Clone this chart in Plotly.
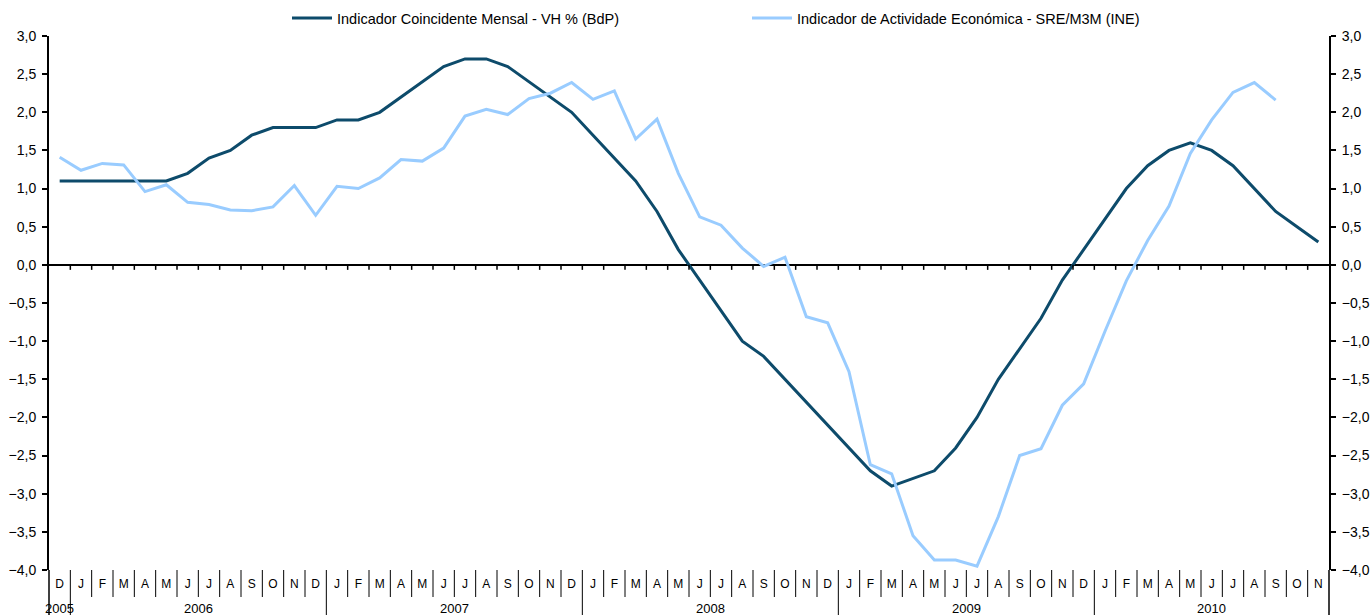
import plotly.graph_objects as go

# ---------------- data ----------------
months = (["D"]
          + ["J", "F", "M", "A", "M", "J", "J", "A", "S", "O", "N", "D"] * 4
          + ["J", "F", "M", "A", "M", "J", "J", "A", "S", "O", "N"])
years = ["2005", "2006", "2007", "2008", "2009", "2010"]
year_centers = [0, 6.5, 18.5, 30.5, 42.5, 54]
year_breaks = [0.5, 12.5, 24.5, 36.5, 48.5]

bdp = [1.1, 1.1, 1.1, 1.1, 1.1, 1.1, 1.2, 1.4, 1.5, 1.7, 1.8, 1.8, 1.8, 1.9, 1.9,
       2.0, 2.2, 2.4, 2.6, 2.7, 2.7, 2.6, 2.4, 2.2, 2.0, 1.7, 1.4, 1.1, 0.7, 0.2,
       -0.2, -0.6, -1.0, -1.2, -1.5, -1.8, -2.1, -2.4, -2.7, -2.9, -2.8, -2.7, -2.4,
       -2.0, -1.5, -1.1, -0.7, -0.2, 0.2, 0.6, 1.0, 1.3, 1.5, 1.6, 1.5, 1.3, 1.0,
       0.7, 0.5, 0.3]
ine = [1.41, 1.24, 1.33, 1.31, 0.96, 1.05, 0.82, 0.79, 0.72, 0.71, 0.76, 1.04, 0.65,
       1.03, 1.0, 1.14, 1.38, 1.36, 1.53, 1.95, 2.04, 1.97, 2.18, 2.25, 2.39, 2.17,
       2.28, 1.65, 1.91, 1.20, 0.63, 0.52, 0.22, -0.02, 0.10, -0.68, -0.76, -1.40,
       -2.62, -2.74, -3.55, -3.87, -3.87, -3.95, -3.30, -2.50, -2.41, -1.84, -1.56,
       -0.87, -0.21, 0.32, 0.77, 1.46, 1.90, 2.26, 2.39, 2.16]
y_ticks = [3.0, 2.5, 2.0, 1.5, 1.0, 0.5, 0.0, -0.5, -1.0, -1.5, -2.0, -2.5, -3.0, -3.5, -4.0]
series_names = ["Indicador Coincidente Mensal - VH % (BdP)",
                "Indicador de Actividade Económica - SRE/M3M (INE)"]

DARK = "#0d4b6b"
LIGHT = "#99ccff"
FONT = "Liberation Sans, Arial, sans-serif"

x_idx = list(range(len(months)))

fig = go.Figure()
fig.add_trace(go.Scatter(x=x_idx, y=bdp, mode="lines", name=series_names[0],
                         line=dict(color=DARK, width=3)))
fig.add_trace(go.Scatter(x=x_idx[:len(ine)], y=ine, mode="lines", name=series_names[1],
                         line=dict(color=LIGHT, width=3)))
# invisible trace to activate the right axis
fig.add_trace(go.Scatter(x=[x_idx[0]], y=[y_ticks[0]], yaxis="y2", mode="lines",
                         line=dict(width=0), showlegend=False, hoverinfo="skip"))

shapes = []
# small ticks below the zero line at month boundaries
for i in range(len(months) - 1):
    shapes.append(dict(type="line", xref="x", yref="y", ysizemode="pixel", yanchor=0,
                       x0=i + 0.5, x1=i + 0.5, y0=0, y1=-5,
                       line=dict(color="black", width=1.5)))
# month separators in the category band
for i in range(len(months) - 1):
    b = i + 0.5
    long_ = b in year_breaks
    shapes.append(dict(type="line", xref="x", yref="paper", ysizemode="pixel", yanchor=0,
                       x0=b, x1=b, y0=0, y1=-45 if long_ else -27,
                       line=dict(color="black", width=1)))
# extensions of the side axes down to the bottom
for xp in (0, 1):
    shapes.append(dict(type="line", xref="paper", yref="paper", ysizemode="pixel", yanchor=0,
                       x0=xp, x1=xp, y0=0, y1=-45, line=dict(color="black", width=1.5)))

annotations = []
for yr, xc in zip(years, year_centers):
    annotations.append(dict(text=yr, x=xc, xref="x", y=0, yref="paper", yanchor="top",
                            yshift=-29, showarrow=False,
                            font=dict(family=FONT, size=13, color="black")))

yaxis_common = dict(range=[y_ticks[-1], y_ticks[0]], tickvals=y_ticks, tickformat=".1f",
                    showgrid=False, showline=True, linecolor="black", linewidth=2,
                    ticks="outside", ticklen=5, tickwidth=1.5, tickcolor="black",
                    tickfont=dict(family=FONT, size=14, color="black"),
                    ticklabelstandoff=3, automargin=False)

fig.update_layout(
    template="none",
    width=1371, height=615,
    margin=dict(l=49, r=42, t=36, b=45, autoexpand=False),
    paper_bgcolor="white", plot_bgcolor="white",
    separators=", ",
    font=dict(family=FONT, size=13, color="black"),
    showlegend=True,
    legend=dict(orientation="h", xref="container", yref="container",
                x=(287) / 1371, xanchor="left", y=1 - 18 / 615, yanchor="middle",
                font=dict(family=FONT, size=14.5, color="black"),
                entrywidth=405, itemwidth=40, bgcolor="rgba(0,0,0,0)", borderwidth=0),
    xaxis=dict(range=[-0.5, len(months) - 0.5], tickvals=x_idx, ticktext=months,
               ticks="", showgrid=False, showline=False, zeroline=False,
               tickfont=dict(family=FONT, size=12, color="black"), tickangle=0,
               ticklabelstandoff=5, automargin=False),
    yaxis=dict(side="left", zeroline=True, zerolinecolor="black", zerolinewidth=2,
               **yaxis_common),
    yaxis2=dict(side="right", overlaying="y", zeroline=False, **yaxis_common),
    shapes=shapes,
    annotations=annotations,
)

fig.write_html("out.html",
               config={"displayModeBar": False},
               post_script="document.body.style.margin='0px';document.body.style.overflow='hidden';")
